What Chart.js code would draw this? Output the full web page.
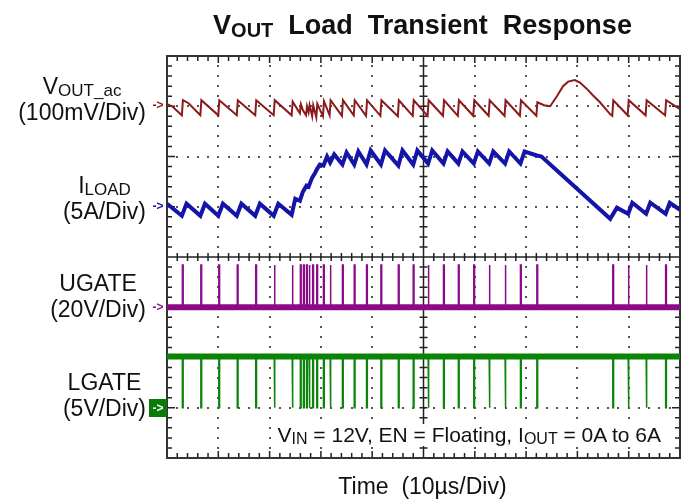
<!DOCTYPE html>
<html>
<head>
<meta charset="utf-8">
<script src="https://cdn.jsdelivr.net/npm/chart.js@4.4.0/dist/chart.umd.min.js"></script>
<style>
  html, body { margin: 0; padding: 0; background: #fff; }
  #wrap { position: relative; width: 691px; height: 502px; font-family: "Liberation Sans", Arial, sans-serif; color: #111; overflow: hidden; }
  #scope { position: absolute; left: 0; top: 0; }
  .title { position: absolute; left: 0; width: 845px; top: 12px; text-align: center; font-size: 27px; font-weight: bold; line-height: 27px; white-space: nowrap; }
  .title sub { font-size: 20px; vertical-align: -3px; }
  .lbl { position: absolute; right: 545px; text-align: center; font-size: 23px; line-height: 26px; white-space: nowrap; }
  .lbl sub { font-size: 17px; vertical-align: -2px; line-height: 0; }
  .mk { position: absolute; left: 149px; width: 18px; height: 14px; font-size: 12px; line-height: 14px; font-weight: bold; text-align: center; }
  .note { position: absolute; right: 28px; top: 424px; padding: 0 2px; background: #fff; font-size: 21px; line-height: 22px; white-space: nowrap; }
  .note sub { font-size: 16px; vertical-align: -2px; line-height: 0; }
  .xlbl { position: absolute; left: 0; width: 845px; top: 474px; text-align: center; font-size: 23px; line-height: 24px; white-space: pre; }
</style>
</head>
<body>
<div id="wrap">
  <canvas id="scope" width="691" height="502"></canvas>
  <div class="title">V<sub>OUT</sub>&nbsp; Load&nbsp; Transient&nbsp; Response</div>
  <div class="lbl" style="top:73px">V<sub>OUT_ac</sub><br>(100mV/Div)</div>
  <div class="lbl" style="top:172px">I<sub>LOAD</sub><br>(5A/Div)</div>
  <div class="lbl" style="top:270px">UGATE<br>(20V/Div)</div>
  <div class="lbl" style="top:369px">LGATE<br>(5V/Div)</div>
  <div class="mk" style="top:98px;color:#8b1a1a">-&gt;</div>
  <div class="mk" style="top:199px;color:#1a1aa0">-&gt;</div>
  <div class="mk" style="top:300px;color:#8a1a8a">-&gt;</div>
  <div class="mk" style="top:399px;height:18px;line-height:18px;color:#fff;background:#0a7a0a">-&gt;</div>
  <div class="note">V<sub>IN</sub> = 12V, EN = Floating, I<sub>OUT</sub> = 0A to 6A</div>
  <div class="xlbl">Time  (10µs/Div)</div>
</div>
<script>
// time axis in µs (10 µs/div, 10 divs), vertical axis in screen divisions (8 divs)
const timeDivs = [0, 10, 20, 30, 40, 50, 60, 70, 80, 90, 100];

// channel settings: ground marker position (div) and scale per div
const voutOffset = 7, voutPerDiv = 100;   // mV/div
const iloadOffset = 5, iloadPerDiv = 5;   // A/div
const ugateOffset = 3, ugatePerDiv = 20;  // V/div
const lgateOffset = 1, lgatePerDiv = 5;   // V/div

// VOUT_ac trace, [µs, mV]
const voutPoints = [
  [0, 4], [1.0, 0], [2.9, -18], [3.1, 12], [4.2, 6], [6.5, -18], [6.7, 12], [10.0, -18], [10.2, 12],
  [13.6, -18], [13.8, 12], [17.2, -18], [17.4, 12], [20.8, -18], [21.0, 12],
  [24.3, -18], [24.5, 9], [25.9, -14], [26.1, 4], [26.5, -8], [27.1, -18], [27.3, 0], [27.6, -12], [27.8, 2],
  [28.3, -20], [28.5, 2], [29.1, -22], [29.3, 5], [30.4, -20], [30.6, 10],
  [31.7, -18], [31.9, 12], [34.1, -19], [34.3, 12], [36.4, -18], [36.6, 12], [38.8, -19], [39.0, 12],
  [41.6, -19], [41.8, 12], [45.0, -20], [45.2, 12], [47.9, -19], [48.1, 12], [50.8, -19], [51.0, 12],
  [53.8, -19], [54.0, 12], [56.7, -19], [56.9, 12], [59.7, -19], [59.9, 12], [62.7, -19], [62.9, 12],
  [65.8, -19], [66.0, 12], [68.8, -19], [69.0, 12], [72.0, -19], [72.2, 8],
  [73.5, 2], [74.7, 0], [76.0, 20], [77.2, 40], [78.2, 49], [79.5, 52], [80.5, 47], [81.8, 35],
  [83.0, 22], [84.4, 8], [86.4, -16], [86.8, -19], [87.0, 12], [89.8, -18], [90.0, 12],
  [93.3, -18], [93.5, 12], [97.1, -18], [97.3, 12], [100, -6]
];

// ILOAD trace, [µs, A]
const iloadPoints = [
  [0, 0.3], [2.9, -0.9], [3.8, 0.3], [6.5, -0.9], [7.4, 0.3], [10.0, -0.9], [10.9, 0.3],
  [13.6, -0.9], [14.5, 0.3], [17.2, -0.9], [18.1, 0.3], [20.8, -0.9], [21.7, 0.3],
  [24.3, -0.8], [25.0, 0.8], [25.9, 0.6], [26.5, 1.5], [27.2, 2.1], [27.6, 2.0], [28.3, 2.9],
  [28.8, 3.3], [29.3, 3.8], [29.8, 4.2], [30.5, 4.1], [31.2, 5.0], [31.8, 4.4], [32.6, 5.2],
  [34.2, 4.2], [35.0, 5.4], [36.5, 4.2], [37.3, 5.5], [38.9, 4.2], [39.7, 5.6], [41.7, 4.2], [42.5, 5.6],
  [45.1, 4.1], [45.9, 5.6], [48.0, 4.2], [48.8, 5.6], [50.9, 4.3], [51.7, 5.6], [53.9, 4.3], [54.7, 5.5],
  [56.8, 4.3], [57.6, 5.5], [59.8, 4.3], [60.6, 5.5], [62.8, 4.3], [63.6, 5.5], [65.9, 4.3], [66.7, 5.5],
  [68.9, 4.3], [69.7, 5.5], [72.1, 5.1], [73.0, 5.0], [86.4, -1.2], [87.7, -0.1], [89.9, -0.7],
  [90.7, 0.4], [93.4, -0.7], [94.2, 0.4], [97.2, -0.7], [98.0, 0.4], [100, -0.3]
];

// switching pulse start times, µs
const pulseTimes = [
  3.0, 6.6, 10.1, 13.7, 17.3, 20.9,
  24.4, 26.0, 26.6, 27.2, 27.7, 28.4, 29.2, 30.5, 31.8, 34.2, 36.5, 38.9, 41.7, 45.1, 48.0, 50.9,
  53.9, 56.8, 59.8, 62.8, 65.9, 68.9, 72.1,
  86.9, 89.9, 93.4, 97.2
];
const ugateHigh = 16.8; // V
const lgateHigh = 5.1;  // V
const pulseWidth = 0.15; // µs

const toDiv = (v, off, per) => off + v / per;

function tracePts(points, off, per) {
  return points.map(p => ({ x: p[0], y: toDiv(p[1], off, per) }));
}

function pulsePts(times, low, high, w, off, per) {
  const pts = [{ x: 0, y: toDiv(low, off, per) }];
  times.forEach(t => {
    pts.push({ x: t, y: toDiv(low, off, per) }, { x: t, y: toDiv(high, off, per) },
             { x: t + w, y: toDiv(high, off, per) }, { x: t + w, y: toDiv(low, off, per) });
  });
  pts.push({ x: 100, y: toDiv(low, off, per) });
  return pts;
}

const scopeGrid = {
  id: 'scopeGrid',
  beforeDatasetsDraw(chart) {
    const { ctx, chartArea: a, scales: { x, y } } = chart;
    ctx.save();
    // dotted division lines
    ctx.fillStyle = '#555';
    for (let i = 1; i < 10; i++) {
      if (i === 5) continue;
      const px = Math.round(x.getPixelForValue(timeDivs[i]));
      for (let k = 1; k < 40; k++) ctx.fillRect(px - 1, Math.round(y.getPixelForValue(k / 5)) - 1, 2, 2);
    }
    for (let j = 1; j < 8; j++) {
      if (j === 4) continue;
      const py = Math.round(y.getPixelForValue(j));
      for (let k = 1; k < 50; k++) ctx.fillRect(Math.round(x.getPixelForValue(k * 2)) - 1, py - 1, 2, 2);
    }
    ctx.strokeStyle = '#222';
    ctx.lineWidth = 1.5;
    const cx = x.getPixelForValue(50), cy = y.getPixelForValue(4);
    ctx.beginPath();
    ctx.moveTo(a.left, cy); ctx.lineTo(a.right, cy);
    ctx.moveTo(cx, a.top); ctx.lineTo(cx, a.bottom);
    // center line and edge ticks
    for (let k = 1; k < 50; k++) {
      const px = x.getPixelForValue(k * 2);
      ctx.moveTo(px, cy - 4); ctx.lineTo(px, cy + 4);
      ctx.moveTo(px, a.top); ctx.lineTo(px, a.top + (k % 5 ? 5 : 7));
      ctx.moveTo(px, a.bottom); ctx.lineTo(px, a.bottom - (k % 5 ? 5 : 7));
    }
    for (let k = 1; k < 40; k++) {
      const py = y.getPixelForValue(k / 5);
      ctx.moveTo(cx - 4, py); ctx.lineTo(cx + 4, py);
      ctx.moveTo(a.left, py); ctx.lineTo(a.left + (k % 5 ? 5 : 8), py);
      ctx.moveTo(a.right, py); ctx.lineTo(a.right - (k % 5 ? 5 : 8), py);
    }
    ctx.stroke();
    ctx.lineWidth = 2;
    ctx.strokeStyle = '#333';
    ctx.strokeRect(a.left, a.top, a.right - a.left, a.bottom - a.top);
    ctx.restore();
  }
};

const purple = '#8a0a8a', green = '#0a850a';

new Chart(document.getElementById('scope'), {
  type: 'line',
  data: {
    datasets: [
      { label: 'VOUT_ac', data: tracePts(voutPoints, voutOffset, voutPerDiv), borderColor: '#8b1a1a', borderWidth: 2 },
      { label: 'ILOAD', data: tracePts(iloadPoints, iloadOffset, iloadPerDiv), borderColor: '#1414a8', borderWidth: 4 },
      { label: 'UGATE', data: pulsePts(pulseTimes, 0, ugateHigh, pulseWidth, ugateOffset, ugatePerDiv), borderColor: purple, borderWidth: 1.5 },
      { label: 'UGATE band', data: pulsePts([], 0, 0, 0, ugateOffset, ugatePerDiv), borderColor: purple, borderWidth: 6 },
      { label: 'LGATE', data: pulsePts(pulseTimes, lgateHigh, 0, pulseWidth, lgateOffset, lgatePerDiv), borderColor: green, borderWidth: 1.5 },
      { label: 'LGATE band', data: pulsePts([], lgateHigh, lgateHigh, 0, lgateOffset, lgatePerDiv), borderColor: green, borderWidth: 6 }
    ]
  },
  options: {
    responsive: false,
    animation: false,
    devicePixelRatio: 1,
    layout: { padding: { left: 167, right: 11, top: 56, bottom: 44 } },
    elements: { point: { radius: 0 }, line: { tension: 0, borderCapStyle: 'butt' } },
    plugins: { legend: { display: false }, tooltip: { enabled: false }, title: { display: false } },
    scales: {
      x: { type: 'linear', min: 0, max: 100, display: false },
      y: { type: 'linear', min: 0, max: 8, display: false }
    }
  },
  plugins: [scopeGrid]
});
</script>
</body>
</html>
